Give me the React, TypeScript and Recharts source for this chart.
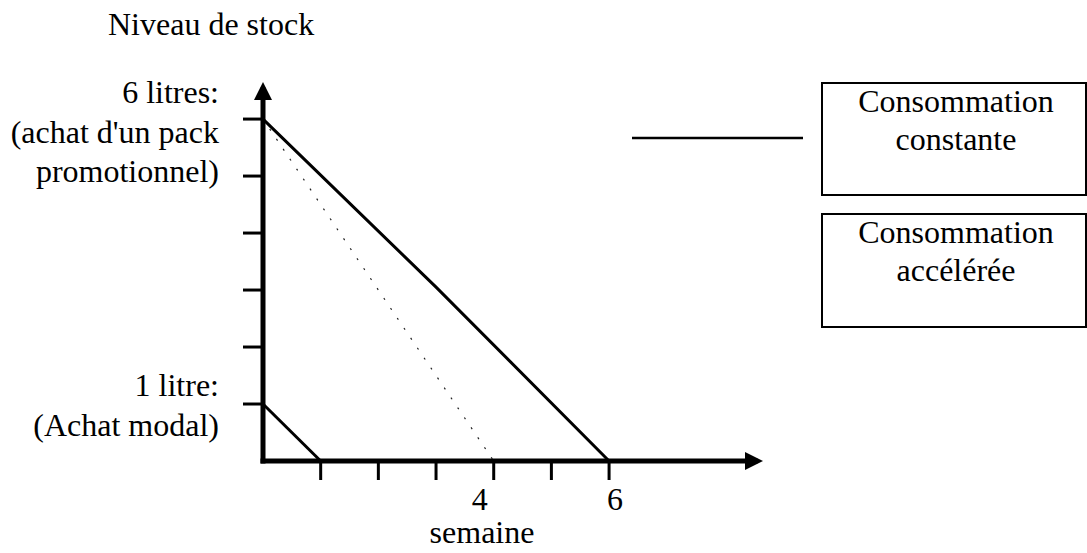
import React from 'react';
import { LineChart, Line, XAxis, YAxis, Legend, Label } from 'recharts';

// stock level (litres) against week
const constantWeeks = [0, 3, 6];
const constantStock = [6, 3.05, 0];
const acceleratedWeeks = [0, 4];
const acceleratedStock = [6, 0];
const modalWeeks = [0, 1];
const modalStock = [1, 0];

const xTicks = [1, 2, 3, 4, 5, 6];
const xTickLabels = ['', '', '', '4', '', '6'];
const yTicks = [1, 2, 3, 4, 5, 6];
const yTickLabels = [
  ['1 litre:', '(Achat modal)'],
  [],
  [],
  [],
  [],
  ['6 litres:', "(achat d'un pack", 'promotionnel)'],
];

const seriesNames = ['Consommation constante', 'Consommation accélérée'];

const zip = (weeks: number[], stock: number[]) => weeks.map((week, i) => ({ week, stock: stock[i] }));
const constantData = zip(constantWeeks, constantStock);
const acceleratedData = zip(acceleratedWeeks, acceleratedStock);
const modalData = zip(modalWeeks, modalStock);

const FONT = "'Liberation Serif', 'Times New Roman', serif";
const FS = 32;
const LABEL_NUDGE: Record<string, number> = { '4': -14, '6': 6 };

const YTick = (props: any) => {
  const { x, y, payload } = props;
  const lines = yTickLabels[yTicks.indexOf(payload.value)] || [];
  if (!lines.length) return <g />;
  const first = -8 * (lines.length - 1);
  return (
    <text x={x} y={y + first} textAnchor="end" fontFamily={FONT} fontSize={FS} fill="#000">
      {lines.map((l, i) => (
        <tspan key={i} x={x} dy={i === 0 ? 0 : 39.5}>{l}</tspan>
      ))}
    </text>
  );
};

const XTick = (props: any) => {
  const { x, y, payload } = props;
  const label = xTickLabels[xTicks.indexOf(payload.value)] || '';
  if (!label) return <g />;
  return (
    <text x={x + (LABEL_NUDGE[label] || 0)} y={y + 28} textAnchor="middle" fontFamily={FONT} fontSize={FS} fill="#000">
      {label}
    </text>
  );
};

const LegendBoxes = (props: any) => {
  const entries = (props.payload || [])
    .filter((e: any) => seriesNames.includes(e.value))
    .sort((a: any, b: any) => seriesNames.indexOf(a.value) - seriesNames.indexOf(b.value));
  const tops = [82, 213];
  const heights = [114, 115];
  return (
    <svg width={1087} height={553} style={{ position: 'absolute', left: 0, top: 0 }}>
      {entries.map((e: any, i: number) => {
        const words = String(e.value).split(' ');
        const top = tops[i];
        return (
          <g key={e.value}>
            {i === 0 && <line x1={632} y1={138} x2={803} y2={138} stroke="#000" strokeWidth={2.5} />}
            <rect x={822} y={top + 1} width={264} height={heights[i] - 2} fill="none" stroke="#000" strokeWidth={2} />
            <text x={956} y={top + 30} textAnchor="middle" fontFamily={FONT} fontSize={FS} fill="#000">
              <tspan x={956}>{words[0]}</tspan>
              <tspan x={956} dy={38}>{words.slice(1).join(' ')}</tspan>
            </text>
          </g>
        );
      })}
    </svg>
  );
};

const axisStyle = { stroke: '#000', strokeWidth: 5, strokeLinecap: 'square' as const };

export default function App() {
  return (
    <div style={{ position: 'absolute', left: 0, top: 0, width: 1087, height: 553, background: '#fff' }}>
      <LineChart width={1087} height={553} margin={{ top: 90, right: 332, bottom: 0, left: 0 }}>
        <defs>
          <marker id="arrow" markerUnits="userSpaceOnUse" markerWidth={18} markerHeight={18} refX={10} refY={9} orient="auto-start-reverse">
            <path d="M0,0 L18,9 L0,18 Z" fill="#000" />
          </marker>
        </defs>
        <XAxis
          dataKey="week"
          type="number"
          domain={[0, 8.53]}
          ticks={xTicks}
          interval={0}
          height={92}
          tickSize={19}
          axisLine={{ ...axisStyle, markerEnd: 'url(#arrow)' }}
          tickLine={{ stroke: '#000', strokeWidth: 3 }}
          tick={XTick}
        >
          <Label
            content={(p: any) => (
              <text x={p.viewBox.x + 219} y={p.viewBox.y + 82} textAnchor="middle" fontFamily={FONT} fontSize={FS} fill="#000">
                semaine
              </text>
            )}
          />
        </XAxis>
        <YAxis
          type="number"
          domain={[0, 6.51]}
          ticks={yTicks}
          interval={0}
          width={263}
          tickSize={20}
          tickMargin={24}
          axisLine={{ ...axisStyle, markerStart: 'url(#arrow)' }}
          tickLine={{ stroke: '#000', strokeWidth: 3 }}
          tick={YTick}
        >
          <Label
            content={(p: any) => (
              <text x={p.viewBox.x + 108} y={35} textAnchor="start" fontFamily={FONT} fontSize={FS} fill="#000">
                Niveau de stock
              </text>
            )}
          />
        </YAxis>
        <Legend
          layout="horizontal"
          verticalAlign="middle"
          align="center"
          content={LegendBoxes}
          wrapperStyle={{ left: 0, top: 0, width: 1087, height: 553, pointerEvents: 'none' }}
        />
        <Line data={constantData} dataKey="stock" name={seriesNames[0]} type="linear" stroke="#000" strokeWidth={3} dot={false} activeDot={false} isAnimationActive={false} />
        <Line data={acceleratedData} dataKey="stock" name={seriesNames[1]} type="linear" stroke="#222" strokeWidth={1.2} strokeDasharray="2 10" dot={false} activeDot={false} isAnimationActive={false} />
        <Line data={modalData} dataKey="stock" name="Achat modal" legendType="none" type="linear" stroke="#000" strokeWidth={3} dot={false} activeDot={false} isAnimationActive={false} />
      </LineChart>
    </div>
  );
}
